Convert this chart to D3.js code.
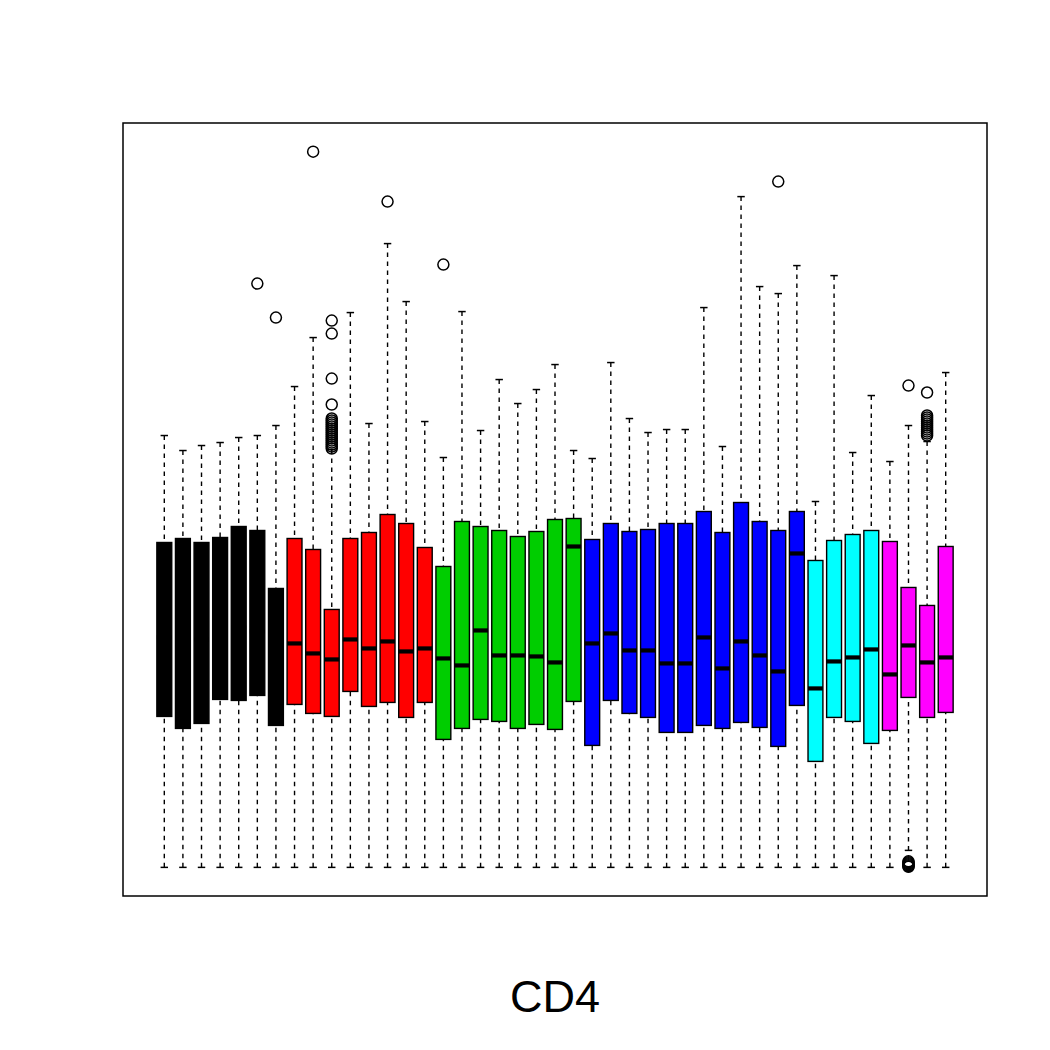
<!DOCTYPE html>
<html>
<head>
<meta charset="utf-8">
<script src="https://cdn.jsdelivr.net/npm/d3@7"></script>
<style>
  body { margin: 0; background: #fff; }
  svg { display: block; }
</style>
</head>
<body>
<div id="chart"></div>
<script>
// groups of boxes, in order, and their fill colours (R default palette)
const groupSizes = [7, 8, 8, 12, 4, 4];
const groupColors = ["#000000", "#FF0000", "#00CD00", "#0000FF", "#00FFFF", "#FF00FF"];

// box statistics, one entry per box (43 boxes)
const whiskerLow = [
    0, 0, 0, 0, 0, 0, 0,
    0, 0, 0, 0, 0, 0, 0, 0,
    0, 0, 0, 0, 0, 0, 0, 0,
    0, 0, 0, 0, 0, 0, 0, 0, 0, 0, 0, 0,
    0, 0, 0, 0,
    0, 17, 0, 0
];
const q1 = [
    151, 139, 144, 168, 167, 172, 142,
    163, 154, 151, 176, 161, 165, 150, 165,
    128, 139, 148, 146, 139, 143, 138, 166,
    122, 167, 154, 150, 135, 135, 142, 139, 145, 140, 121, 162,
    106, 150, 146, 124,
    137, 170, 150, 155
];
const median = [
    230, 225, 228, 238, 240, 236, 210,
    224, 214, 208, 228, 219, 226, 216, 219,
    209, 202, 237, 212, 212, 211, 205, 321,
    224, 234, 217, 217, 204, 204, 230, 199, 226, 212, 196, 314,
    179, 206, 210, 218,
    193, 222, 205, 210
];
const q3 = [
    325, 329, 325, 330, 341, 337, 279,
    329, 318, 258, 329, 335, 353, 344, 320,
    301, 346, 341, 337, 331, 336, 348, 349,
    328, 344, 336, 338, 344, 344, 356, 335, 365, 346, 337, 356,
    307, 327, 333, 337,
    326, 280, 262, 321
];
const whiskerHigh = [
    432, 417, 422, 425, 430, 432, 442,
    481, 530, 418, 555, 444, 624, 566, 446,
    410, 556, 437, 488, 464, 478, 503, 417,
    409, 505, 449, 435, 438, 438, 560, 421, 671, 581, 574, 602,
    366, 592, 415, 472,
    406, 442, 426, 495
];

// outliers as [box number, value]
const outliers = [
    [6, 584], [7, 550], [9, 716],
    [10, 547], [10, 534], [10, 489], [10, 463], [10, 449], [10, 447], [10, 445],
    [10, 443], [10, 441], [10, 439], [10, 437], [10, 435], [10, 433], [10, 431],
    [10, 429], [10, 427], [10, 425], [10, 423], [10, 421], [10, 419],
    [13, 666], [16, 603], [34, 686],
    [41, 482], [41, 6], [41, 5], [41, 4], [41, 3], [41, 2], [41, 1], [41, 0.5],
    [42, 475], [42, 452], [42, 450], [42, 448], [42, 446], [42, 444], [42, 442],
    [42, 440], [42, 438], [42, 436], [42, 434], [42, 432]
];

const title = "CD4";

// build box records
const boxColors = [];
groupSizes.forEach((n, g) => { for (let k = 0; k < n; k++) boxColors.push(groupColors[g]); });
const boxes = q1.map((d, i) => ({
    pos: i + 1,
    lo: whiskerLow[i], q1: q1[i], med: median[i], q3: q3[i], hi: whiskerHigh[i],
    color: boxColors[i]
}));

const width = 1050, height = 1050;
const plot = { left: 123, right: 987, top: 123, bottom: 896 };

const svg = d3.select("#chart").append("svg")
    .attr("width", width)
    .attr("height", height);

// R style ranges: 4% padding on both sides
const n = boxes.length;
const xPad = 0.04 * n;
const x = d3.scaleLinear()
    .domain([0.5 - xPad, n + 0.5 + xPad])
    .range([plot.left, plot.right]);

const allVals = whiskerLow.concat(whiskerHigh, outliers.map(d => d[1]));
const yMin = d3.min(allVals), yMax = d3.max(allVals);
const yPad = 0.04 * (yMax - yMin);
const y = d3.scaleLinear()
    .domain([yMin - yPad, yMax + yPad])
    .range([plot.bottom, plot.top]);

const boxW = (x(2) - x(1)) * 0.8;
const capW = boxW * 0.5;

const g = svg.append("g");

// whiskers (dashed, drawn from the end toward the box)
g.selectAll("line.wlow")
    .data(boxes)
    .enter()
    .append("line")
    .attr("x1", d => x(d.pos)).attr("x2", d => x(d.pos))
    .attr("y1", d => y(d.lo)).attr("y2", d => y(d.q1))
    .attr("stroke", "#000").attr("stroke-width", 1.4)
    .attr("stroke-dasharray", "4.5,4.5");

g.selectAll("line.whigh")
    .data(boxes)
    .enter()
    .append("line")
    .attr("x1", d => x(d.pos)).attr("x2", d => x(d.pos))
    .attr("y1", d => y(d.hi)).attr("y2", d => y(d.q3))
    .attr("stroke", "#000").attr("stroke-width", 1.4)
    .attr("stroke-dasharray", "4.5,4.5");

// staples
["lo", "hi"].forEach(k => {
    g.selectAll("line.cap-" + k)
        .data(boxes)
        .enter()
        .append("line")
        .attr("x1", d => x(d.pos) - capW / 2).attr("x2", d => x(d.pos) + capW / 2)
        .attr("y1", d => y(d[k])).attr("y2", d => y(d[k]))
        .attr("stroke", "#000").attr("stroke-width", 1.5);
});

// boxes
g.selectAll("rect.box")
    .data(boxes)
    .enter()
    .append("rect")
    .attr("x", d => x(d.pos) - boxW / 2)
    .attr("width", boxW)
    .attr("y", d => y(d.q3))
    .attr("height", d => y(d.q1) - y(d.q3))
    .attr("fill", d => d.color)
    .attr("stroke", "#000")
    .attr("stroke-width", 1.4);

// medians
g.selectAll("line.med")
    .data(boxes)
    .enter()
    .append("line")
    .attr("x1", d => x(d.pos) - boxW / 2).attr("x2", d => x(d.pos) + boxW / 2)
    .attr("y1", d => y(d.med)).attr("y2", d => y(d.med))
    .attr("stroke", "#000").attr("stroke-width", 4.2);

// outliers
g.selectAll("circle.out")
    .data(outliers)
    .enter()
    .append("circle")
    .attr("cx", d => x(d[0]))
    .attr("cy", d => y(d[1]))
    .attr("r", 5.5)
    .attr("fill", "none")
    .attr("stroke", "#000")
    .attr("stroke-width", 1.5);

// plot frame
svg.append("rect")
    .attr("x", plot.left).attr("y", plot.top)
    .attr("width", plot.right - plot.left)
    .attr("height", plot.bottom - plot.top)
    .attr("fill", "none")
    .attr("stroke", "#000")
    .attr("stroke-width", 1.5);

// label under the plot
svg.append("text")
    .attr("x", (plot.left + plot.right) / 2)
    .attr("y", 1012)
    .attr("text-anchor", "middle")
    .style("font-family", "'Liberation Sans', Arial, sans-serif")
    .style("font-size", "45px")
    .text(title);
</script>
</body>
</html>
